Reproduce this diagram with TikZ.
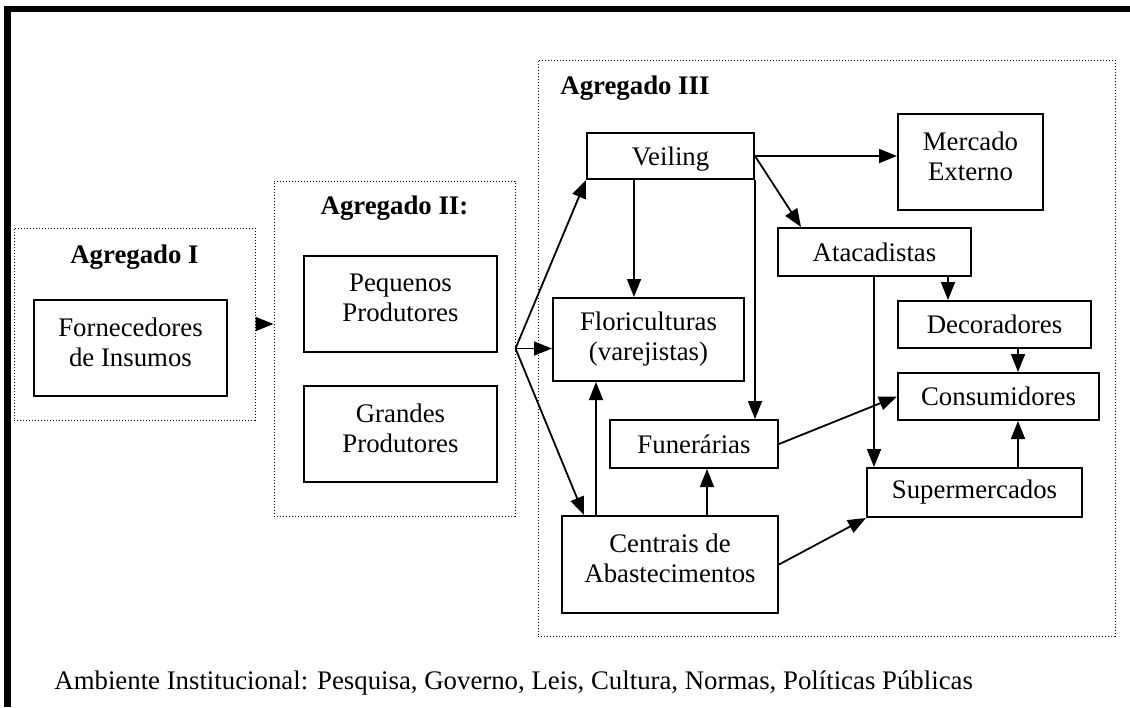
\documentclass[tikz,border=0pt]{standalone}
\usepackage{fontspec}
\setmainfont{Liberation Serif}
\usetikzlibrary{arrows.meta}

\begin{document}
\begin{tikzpicture}[x=0.5pt,y=-0.5pt,font=\fontsize{13.4}{15}\selectfont]

        % Define node styles
        \tikzstyle{agg} = [draw, line width=0.5pt, dash pattern=on 0.6pt off 0.9pt, inner sep=0]
        \tikzstyle{box} = [draw, line width=1pt, align=center, inner sep=0]
        \tikzstyle{raised} = [text depth=6pt]
        \tikzstyle{title} = [font=\fontsize{13.4}{15}\selectfont\bfseries, inner sep=0]
        \tikzstyle{arr} = [-{Triangle[length=9pt,width=7pt]}, line width=0.9pt]

        \useasboundingbox (0,0) rectangle (1130,707);

        % Outer frame
        \draw[line width=3.2pt] (7.5,707) -- (7.5,9) -- (1130,9);

        % Agregado I
        \node[agg, minimum width=120.5pt, minimum height=96pt] (agI) at (134.5,324) {};
        \node[title] (tI) at (134.5,257) {Agregado I};
        \node[box, raised, minimum width=96.5pt, minimum height=48pt] (forn) at (130.5,348) {Fornecedores\\de Insumos};

        % Agregado II
        \node[agg, minimum width=120.5pt, minimum height=167.5pt] (agII) at (394.5,348.5) {};
        \node[title] (tII) at (394.5,208) {Agregado II:};
        \node[box, raised, minimum width=96.5pt, minimum height=48pt] (peq) at (400.5,304) {Pequenos\\Produtores};
        \node[box, raised, minimum width=96.5pt, minimum height=48pt] (gra) at (400.5,434) {Grandes\\Produtores};

        % Agregado III
        \node[agg, minimum width=288.5pt, minimum height=288pt] (agIII) at (826.5,348) {};
        \node[title, anchor=west] (tIII) at (560,88) {Agregado III};
        \node[box, text height=12pt, minimum width=83.5pt, minimum height=23pt] (veil) at (670.5,156) {Veiling};
        \node[box, raised, minimum width=72.5pt, minimum height=48pt] (merc) at (970.5,162) {Mercado\\Externo};
        \node[box, minimum width=96.5pt, minimum height=24pt] (atac) at (874.5,252) {Atacadistas};
        \node[box, minimum width=96.5pt, minimum height=23.5pt] (dec) at (994.5,324.5) {Decoradores};
        \node[box, minimum width=100.5pt, minimum height=23.5pt] (cons) at (998.5,396.5) {Consumidores};
        \node[box, minimum width=107.5pt, minimum height=24.5pt] (super) at (974.5,492.5) {Supermercados};
        \node[box, minimum width=95.5pt, minimum height=41.5pt] (flori) at (648.5,339.5) {Floriculturas\\(varejistas)};
        \node[box, minimum width=84pt, minimum height=24pt] (fun) at (694,444) {Funerárias};
        \node[box, raised, minimum width=108pt, minimum height=48.5pt] (cent) at (670,564.5) {Centrais de\\Abastecimentos};

        % Institutional environment
        \node[inner sep=0, anchor=west] (amb) at (54,683) {Ambiente Institucional: Pesquisa, Governo, Leis, Cultura, Normas, Políticas Públicas};

        % Agregado I -> Agregado II
        \draw[arr] (agI.east) -- (agI.east -| agII.west);

        % Agregado II -> Agregado III
        \draw[arr] (agII.east) -- (veil.south west);
        \draw[arr] (agII.east) -- (agII.east -| flori.west);
        \draw[arr] (agII.east) -- ([xshift=11.5pt]cent.north west);

        % Veiling
        \draw[arr] (veil.east) -- (veil.east -| merc.west);
        \draw[arr] (veil.east) -- ([xshift=12pt]atac.north west);
        \draw[arr] ([xshift=24pt]veil.south west) -- ([xshift=24pt]veil.south west |- flori.north);
        \draw[arr] (veil.south east) -- (veil.south east |- fun.north);

        % Atacadistas
        \draw[arr] ([xshift=-12pt]atac.south east) -- ([xshift=-12pt]atac.south east |- dec.north);
        \draw[arr] ([xshift=48.5pt]atac.south west) -- ([xshift=48.5pt]atac.south west |- super.north);

        % Towards Consumidores
        \draw[arr] ([xshift=60.5pt]dec.south west) -- ([xshift=60.5pt]dec.south west |- cons.north);
        \draw[arr] ([xshift=76pt]super.north west) -- ([xshift=76pt]super.north west |- cons.south);
        \draw[arr] (fun.east) -- (cons.west);

        % Centrais de Abastecimentos
        \draw[arr] ([xshift=17.5pt]cent.north west) -- ([xshift=17.5pt]cent.north west |- flori.south);
        \draw[arr] ([xshift=6.5pt]fun.south |- cent.north) -- ([xshift=6.5pt]fun.south);
        \draw[arr] (cent.east) -- (super.south west);

\end{tikzpicture}
\end{document}
